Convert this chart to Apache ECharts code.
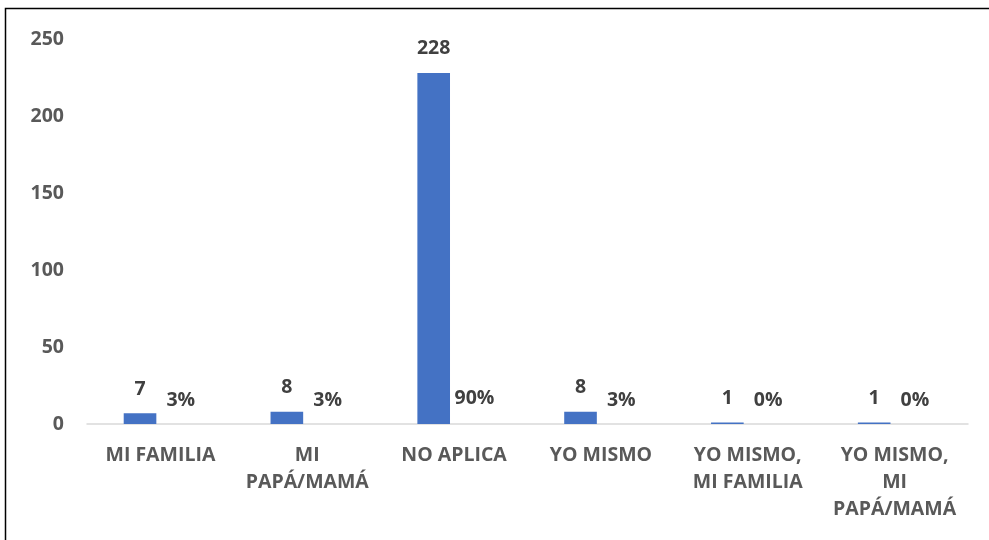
<!DOCTYPE html>
<html>
<head>
<meta charset="utf-8">
<script src="https://cdn.jsdelivr.net/npm/echarts@6/dist/echarts.min.js"></script>
<style>
  html, body { margin: 0; padding: 0; background: #fff; }
  #chart { width: 989px; height: 540px; }
</style>
</head>
<body>
<div id="chart"></div>
<script>
  // values
  const categories = ['MI FAMILIA', 'MI\nPAPÁ/MAMÁ', 'NO APLICA', 'YO MISMO', 'YO MISMO,\nMI FAMILIA', 'YO MISMO,\nMI\nPAPÁ/MAMÁ'];
  const counts = [7, 8, 228, 8, 1, 1];
  const percents = [0.03, 0.03, 0.90, 0.03, 0.00, 0.00];
  const yTicks = [0, 50, 100, 150, 200, 250];

  const textColor = '#404040';
  const font = '"Open Sans", sans-serif';

  const chart = echarts.init(document.getElementById('chart'));

  chart.setOption({
    animation: false,
    grid: { left: 87, right: 21, top: 39, bottom: 116 },
    graphic: [{
      type: 'rect',
      shape: { x: 5.5, y: 8.5, width: 1000, height: 600 },
      style: { fill: 'none', stroke: '#000', lineWidth: 1.5 },
      silent: true
    }],
    xAxis: {
      type: 'category',
      data: categories,
      axisTick: { show: false },
      axisLine: { lineStyle: { color: '#d9d9d9', width: 1.5 } },
      axisLabel: {
        color: '#595959', fontFamily: font, fontWeight: 'bold', fontSize: 19.5,
        lineHeight: 27, margin: 18, interval: 0
      }
    },
    yAxis: {
      type: 'value',
      min: yTicks[0],
      max: yTicks[yTicks.length - 1],
      interval: 50,
      splitLine: { show: false },
      axisLine: { show: false },
      axisTick: { show: false },
      axisLabel: {
        color: '#595959', fontFamily: font, fontWeight: 'bold', fontSize: 19.5, margin: 23
      }
    },
    series: [
      {
        name: 'Cantidad',
        type: 'bar',
        data: counts,
        barGap: '25%',
        barCategoryGap: '50%',
        itemStyle: { color: '#4472c4' },
        label: {
          show: true, position: 'top', distance: 14,
          color: textColor, fontFamily: font, fontWeight: 'bold', fontSize: 19.5
        }
      },
      {
        name: 'Porcentaje',
        type: 'bar',
        data: percents,
        itemStyle: { color: 'rgba(0,0,0,0)' },
        label: {
          show: true, position: 'top', distance: 14,
          color: textColor, fontFamily: font, fontWeight: 'bold', fontSize: 19.5,
          formatter: p => Math.round(p.value * 100) + '%'
        }
      }
    ]
  });
</script>
</body>
</html>
